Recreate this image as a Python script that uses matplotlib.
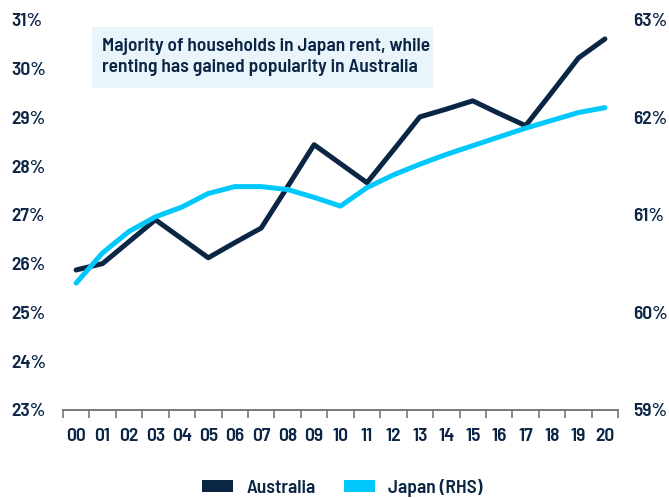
import numpy as np
import matplotlib
matplotlib.use('Agg')
import matplotlib.pyplot as plt
from matplotlib.patches import Patch, Rectangle

plt.rcParams['font.family'] = ['Barlow Semi Condensed', 'DejaVu Sans']
plt.rcParams['font.weight'] = 'semibold'

years = ['00', '01', '02', '03', '04', '05', '06', '07', '08', '09', '10',
         '11', '12', '13', '14', '15', '16', '17', '18', '19', '20']
australia = [25.87, 26.0, 26.45, 26.9, 26.51, 26.12, 26.43, 26.73, 27.58, 28.44, 28.05,
             27.66, 28.33, 29.01, 29.17, 29.34, 29.08, 28.83, 29.52, 30.22, 30.61]
japan = [60.30, 60.61, 60.83, 60.98, 61.08, 61.22, 61.29, 61.29, 61.26, 61.18, 61.09,
         61.28, 61.41, 61.52, 61.62, 61.71, 61.80, 61.89, 61.97, 62.05, 62.10]

left_ticks = [23, 24, 25, 26, 27, 28, 29, 30, 31]
right_ticks = [59, 60, 61, 62, 63]

NAVY = '#0b2545'
CYAN = '#00c8fc'
BOX = '#eaf5fb'
FS = 14

fig = plt.figure(figsize=(6.69, 4.98), dpi=100)
ax = fig.add_axes([0.094, 0.177, 0.830, 0.783])
ax2 = ax.twinx()

x = np.arange(len(years))
ax.plot(x, australia, color=NAVY, linewidth=3.6, solid_capstyle='round', zorder=3)
ax2.plot(x, japan, color=CYAN, linewidth=3.6, solid_capstyle='round', zorder=3)

ax.set_xlim(-0.5, len(years) - 0.5)
ax.set_ylim(23, 31)
ax2.set_ylim(59, 63)

# category labels at centres, tick marks at boundaries
ax.set_xticks(x)
ax.set_xticklabels(years, fontsize=FS, color=NAVY)
ax.tick_params(axis='x', which='major', length=0, pad=13)
ax.set_xticks(np.arange(-0.5, len(years)), minor=True)
ax.tick_params(axis='x', which='minor', length=6, width=1.2, color='#777777')

ax.set_yticks(left_ticks)
ax.set_yticklabels([f'{v}%' for v in left_ticks], fontsize=FS, color=NAVY)
ax.tick_params(axis='y', length=0, pad=37)
for lbl in ax.get_yticklabels():
    lbl.set_horizontalalignment('left')

ax2.set_yticks(right_ticks)
ax2.set_yticklabels([f'{v}%' for v in right_ticks], fontsize=FS, color=NAVY)
ax2.tick_params(axis='y', length=0, pad=11)

for a in (ax, ax2):
    for side in ('top', 'left', 'right'):
        a.spines[side].set_visible(False)
    a.spines['bottom'].set_color('#777777')
    a.spines['bottom'].set_linewidth(1.2)

# annotation box
ax.add_patch(Rectangle((0.052, 0.826), 0.615, 0.156, transform=ax.transAxes,
                       facecolor=BOX, edgecolor='none', zorder=1))
ax.text(0.07, 0.905, 'Majority of households in Japan rent, while\nrenting has gained popularity in Australia',
        transform=ax.transAxes, fontsize=FS, color=NAVY, va='center', ha='left',
        linespacing=1.25, zorder=2)

handles = [Patch(facecolor=NAVY, label='Australia'),
           Patch(facecolor=CYAN, label='Japan (RHS)')]
leg = fig.legend(handles=handles, loc='center', bbox_to_anchor=(0.512, 0.02), ncol=2,
                 frameon=False, fontsize=FS, handlelength=1.6, handleheight=0.62,
                 handletextpad=0.68, columnspacing=1.45)
for t in leg.get_texts():
    t.set_color(NAVY)

fig.savefig('out.png', dpi=100)
